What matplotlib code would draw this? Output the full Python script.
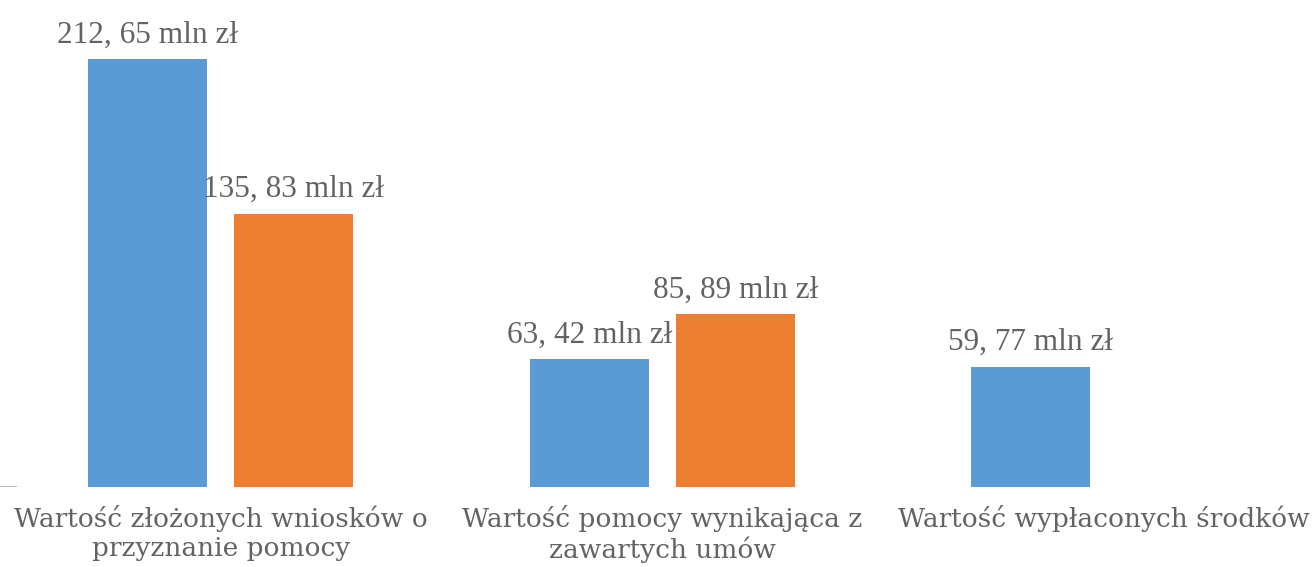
import numpy as np
import matplotlib.pyplot as plt

categories = [
    "Wartość złożonych wniosków o\nprzyznanie pomocy",
    "Wartość pomocy wynikająca z\nzawartych umów",
    "Wartość wypłaconych środków",
]
blue_values = [212.65, 63.42, 59.77]
orange_values = [135.83, 85.89, np.nan]

BLUE = "#5B9BD5"
ORANGE = "#ED7D31"
TEXT = "#636363"

fig = plt.figure(figsize=(13.16, 5.67), dpi=100)
ax = fig.add_axes([0, 80 / 567, 1, 487 / 567])

x = np.arange(len(categories))
w = 0.2695
off = 0.1653

for vals, color, dx in [(blue_values, BLUE, -off), (orange_values, ORANGE, off)]:
    for xi, v in zip(x, vals):
        if np.isnan(v):
            continue
        ax.bar(xi + dx, v, width=w, color=color)
        label = f"{v:.2f}".replace(".", ", ") + " mln zł"
        ax.annotate(label, (xi + dx, v), xytext=(0, 12), textcoords="offset points",
                    ha="center", va="baseline", fontsize=22.5, color=TEXT,
                    family="Liberation Serif")

ax.set_xlim(-0.5, -0.5 + 1316 / 441.5)
ax.set_ylim(0, 242)
ax.set_xticks(x)
ax.set_xticklabels(categories, fontsize=19, color=TEXT, family="DejaVu Serif",
                   linespacing=1.2)
ax.tick_params(axis="x", length=0, pad=13)
ax.set_yticks([])
for s in ax.spines.values():
    s.set_visible(False)
ax.axhline(0, xmin=0, xmax=0.012, color="#BFBFBF", lw=1.5)

fig.savefig("out.png", dpi=100)
